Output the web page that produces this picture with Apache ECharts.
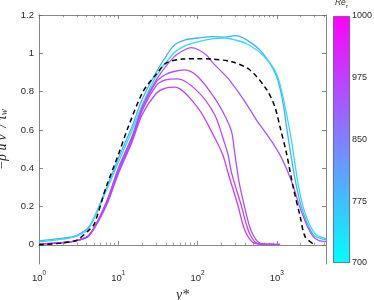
<!DOCTYPE html>
<html><head><meta charset="utf-8">
<script src="https://cdn.jsdelivr.net/npm/echarts@6/dist/echarts.min.js"></script>
<style>html,body{margin:0;padding:0;background:#fff}#c{width:374px;height:300px}</style>
</head><body><div id="c"></div>
<script>
// ---- data (y*, -rho u'v'/tau_w) ----
const curveA = [[1,0.021],[2,0.035],[2.6,0.042],[3,0.05],[4.3,0.095],[7,0.29],[10,0.45],[15,0.62],[20,0.76],[30,0.9],[50,1.04],[70,1.07],[100,1.08],[156,1.087],[220,1.085],[296,1.092],[416,1.07],[668,1.0],[990,0.88],[1200,0.74],[1290,0.65],[1463,0.5],[1778,0.3],[2155,0.167],[2882,0.052],[4169,0.026]];
const curveB = [[1,0.015],[2,0.03],[3,0.045],[4.3,0.09],[7,0.28],[10,0.43],[15,0.6],[20,0.73],[30,0.88],[50,1.0],[70,1.04],[100,1.06],[150,1.075],[220,1.08],[296,1.07],[416,1.05],[668,0.99],[1000,0.89],[1300,0.7],[1550,0.53],[1850,0.32],[2250,0.17],[3000,0.06],[4169,0.032]];
const curveC = [[1,0.005],[2,0.012],[3,0.022],[4.3,0.05],[7,0.22],[10,0.4],[15,0.57],[20,0.72],[30,0.86],[50,0.98],[70,1.02],[84,1.03],[101,1.02],[130,0.99],[156,0.95],[221,0.887],[253,0.86],[396,0.748],[556,0.65],[708,0.59],[893,0.53],[1095,0.47],[1350,0.39],[1630,0.3],[1900,0.21],[2155,0.148],[2500,0.085],[2870,0.043],[3400,0.022],[4169,0.017]];
const curveD = [[1,0.005],[2,0.012],[3,0.022],[4.3,0.05],[7,0.21],[10,0.39],[15,0.56],[20,0.71],[30,0.85],[38.6,0.887],[50,0.905],[69,0.913],[101,0.878],[165,0.765],[230,0.66],[269,0.59],[290,0.5],[311,0.41],[340,0.31],[396,0.19],[450,0.1],[504,0.05],[580,0.015],[700,0.004],[1100,0.003]];
const curveE = [[1,0.005],[2,0.012],[3,0.022],[4.3,0.05],[7,0.21],[10,0.38],[15,0.55],[20,0.7],[30,0.83],[38.6,0.86],[56,0.866],[101,0.8],[165,0.678],[210,0.555],[243,0.47],[269,0.374],[359,0.2],[410,0.11],[458,0.055],[530,0.015],[620,0.004],[900,0.003]];
const curveF = [[1,0.005],[2,0.012],[3,0.022],[4.3,0.05],[7,0.2],[10,0.37],[15,0.54],[20,0.68],[30,0.79],[38.6,0.817],[51.7,0.823],[101,0.715],[165,0.558],[208,0.47],[243,0.374],[326,0.2],[370,0.11],[416,0.055],[490,0.015],[580,0.004],[700,0.003]];
const curveRef = [[1,0.0],[2,0.01],[3,0.025],[4.3,0.078],[5,0.11],[7,0.3],[10,0.47],[13.2,0.61],[20.5,0.8],[30,0.89],[40.6,0.95],[65,0.97],[100,0.972],[150,0.97],[269,0.956],[458,0.913],[745,0.81],[945,0.72],[1095,0.617],[1320,0.48],[1610,0.3],[1970,0.148],[2270,0.043],[2880,0.005]];

const seriesColors = ['#3eb2fb','#2fdcff','#a956ff','#b04eff','#b847ff','#c040ff'];
const xMajorTicks = [1,10,100,1000];
const yTicks = [0,0.2,0.4,0.6,0.8,1,1.2];
const cbLabels = ['700','775','850','975','1000'];
const cbTickPos = [0,1,2,3,4];

const xMinorTicks = [];
for (let d = 1; d <= 1000; d *= 10) for (let k = 2; k <= 9; k++) if (d*k <= 4169) xMinorTicks.push(d*k);

const chart = echarts.init(document.getElementById('c'), null, {renderer:'canvas'});
const axCol = '#6a6a6a', txtCol = '#2a2a2a';
const FONT = 'Liberation Sans';
const grid0 = {left:39, top:15, width:287, height:249, outerBoundsMode:'none', containLabel:false};
const baseLog = (extra) => Object.assign({type:'log', min:1, max:4169, gridIndex:0, splitLine:{show:false}, minorTick:{show:false}}, extra);

const lines = [curveA, curveB, curveC, curveD, curveE, curveF].map((d,i) => ({
  type:'line', data:d, xAxisIndex:0, yAxisIndex:0, showSymbol:false, smooth:0.3,
  lineStyle:{color:seriesColors[i], width:1.3}, itemStyle:{color:seriesColors[i]}, animation:false, z:2
}));
lines.push({type:'line', data:curveRef, xAxisIndex:0, yAxisIndex:0, showSymbol:false, smooth:0.3,
  lineStyle:{color:'#000', width:1.5, type:[5,3.5]}, animation:false, z:3});
lines.push({type:'bar', data:[4], xAxisIndex:4, yAxisIndex:2, barWidth:'100%', animation:false,
  itemStyle:{borderColor:'#555', borderWidth:0.8,
    color:new echarts.graphic.LinearGradient(0,0,0,1,[{offset:0,color:'#ff00ff'},{offset:1,color:'#00ffff'}])}});

chart.setOption({
  backgroundColor:'#fff',
  animation:false,
  grid:[grid0, {left:333, top:16, width:17, height:247, outerBoundsMode:'none', containLabel:false}],
  xAxis:[
    baseLog({position:'bottom', axisLine:{show:true, lineStyle:{color:axCol, width:0.8}},
      axisTick:{show:true, inside:true, length:4, customValues:xMajorTicks, lineStyle:{color:axCol, width:0.8}},
      axisLabel:{show:true, customValues:xMajorTicks, margin:6, color:txtCol,
        formatter:v => '{b|10}{s|' + Math.round(Math.log10(v)) + '}',
        rich:{b:{fontFamily:FONT, fontSize:9.5, color:txtCol, verticalAlign:'bottom'},
              s:{fontFamily:FONT, fontSize:6.5, color:txtCol, verticalAlign:'bottom', padding:[0,0,6,0]}}},
      name:'y*', nameLocation:'middle', nameGap:22,
      nameTextStyle:{fontFamily:'Liberation Serif', fontStyle:'italic', fontSize:14, color:txtCol}}),
    baseLog({position:'bottom', axisLine:{show:false}, axisLabel:{show:false},
      axisTick:{show:true, inside:true, length:2.2, customValues:xMinorTicks, lineStyle:{color:axCol, width:0.7}}}),
    baseLog({position:'top', axisLine:{show:true, lineStyle:{color:axCol, width:0.8}}, axisLabel:{show:false},
      axisTick:{show:true, inside:true, length:4, customValues:xMajorTicks, lineStyle:{color:axCol, width:0.8}}}),
    baseLog({position:'top', axisLine:{show:false}, axisLabel:{show:false},
      axisTick:{show:true, inside:true, length:2.2, customValues:xMinorTicks, lineStyle:{color:axCol, width:0.7}}}),
    {type:'category', gridIndex:1, data:[''], show:true, position:'top', boundaryGap:true,
      axisLine:{show:false}, axisTick:{show:false}, axisLabel:{show:false},
      name:'{i|Re}{s|τ}', nameLocation:'middle', nameGap:9,
      nameTextStyle:{rich:{
        i:{fontFamily:FONT, fontStyle:'italic', fontSize:8.5, color:txtCol, verticalAlign:'bottom'},
        s:{fontFamily:FONT, fontStyle:'italic', fontSize:6, color:txtCol, verticalAlign:'bottom', padding:[0,0,-2,0]}}}}
  ],
  yAxis:[
    {type:'value', gridIndex:0, min:-0.1, max:1.2, position:'left', splitLine:{show:false},
      axisLine:{show:true, lineStyle:{color:axCol, width:0.8}},
      axisTick:{show:true, inside:true, length:4, customValues:yTicks, lineStyle:{color:axCol, width:0.8}},
      axisLabel:{show:true, customValues:yTicks, margin:5, color:txtCol, fontFamily:FONT, fontSize:9.5, formatter:v => String(+v.toFixed(1))},
      name:'−ρ\u0304 u\u0305′\u0305v\u0305′\u0305 / τ{s|w}', nameLocation:'middle', nameGap:22, nameRotate:90,
      nameTextStyle:{fontFamily:'Liberation Serif', fontStyle:'italic', fontSize:14, color:txtCol,
        rich:{s:{fontFamily:'Liberation Serif', fontStyle:'italic', fontSize:9.5, color:txtCol, verticalAlign:'bottom', padding:[5,0,0,0]}}}},
    {type:'value', gridIndex:0, min:-0.1, max:1.2, position:'right', splitLine:{show:false},
      axisLine:{show:true, lineStyle:{color:axCol, width:0.8}},
      axisTick:{show:true, inside:true, length:4, customValues:yTicks, lineStyle:{color:axCol, width:0.8}},
      axisLabel:{show:false}},
    {type:'value', gridIndex:1, min:0, max:4, interval:1, position:'right', splitLine:{show:false},
      axisLine:{show:false}, axisTick:{show:false},
      axisLabel:{show:true, customValues:cbTickPos, margin:2, color:txtCol, fontFamily:FONT, fontSize:9, formatter:v => cbLabels[Math.round(v)]}}
  ],
  series:lines
});
</script></body></html>
